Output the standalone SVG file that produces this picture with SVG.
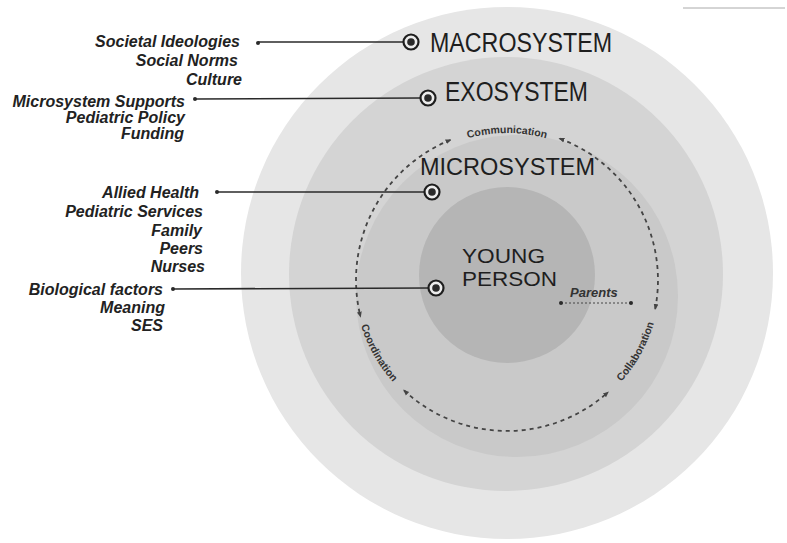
<svg xmlns="http://www.w3.org/2000/svg" width="787" height="543" viewBox="0 0 787 543">
<style>
.side{font-family:"Liberation Sans",Arial,sans-serif;font-size:16px;font-weight:bold;font-style:italic;fill:#222;text-anchor:end}
.sys{font-family:"Liberation Sans",Arial,sans-serif;fill:#1e1e1e}
.arcl{font-family:"Liberation Sans",Arial,sans-serif;font-size:10.5px;font-weight:bold;fill:#333}
.lead{stroke:#2a2a2a;stroke-width:1.6;fill:none}
.dot{fill:#2a2a2a}
.ring{fill:#ececec;stroke:#1e1e1e;stroke-width:2.2}
.core{fill:#2a2a2a}
.dash{fill:none;stroke:#444;stroke-width:1.8;stroke-dasharray:4 4}
</style>
<defs>
<marker id="ah" viewBox="0 0 10 10" refX="8" refY="5" markerWidth="6" markerHeight="6" markerUnits="userSpaceOnUse" orient="auto-start-reverse">
<path d="M0,1 L10,5 L0,9 z" fill="#444"/>
</marker>
<path id="pTop" d="M433.5 152.7 A147 147 0 0 1 580.5 152.7"/>
<path id="pBot" d="M354 280 A153 153 0 0 0 660 280"/>
</defs>
<rect width="787" height="543" fill="#ffffff"/>
<line x1="683" y1="8" x2="785" y2="8" stroke="#aaa" stroke-width="1"/>

<g id="macrosystem">
<circle cx="507" cy="273" r="266" fill="#e6e6e6"/>
<text class="sys" x="430" y="52" font-size="27" textLength="182" lengthAdjust="spacingAndGlyphs">MACROSYSTEM</text>
</g>
<g id="exosystem">
<circle cx="506" cy="274" r="217" fill="#d4d4d4"/>
<text class="sys" x="445" y="101" font-size="27" textLength="143" lengthAdjust="spacingAndGlyphs">EXOSYSTEM</text>
</g>
<g id="microsystem">
<circle cx="517" cy="296" r="161" fill="#c9c9c9"/>
<text class="sys" x="420" y="175" font-size="23" textLength="175" lengthAdjust="spacingAndGlyphs">MICROSYSTEM</text>
</g>
<g id="young-person">
<circle cx="507" cy="275" r="88" fill="#b5b5b5"/>
<text class="sys" x="462" y="263" font-size="20" textLength="83" lengthAdjust="spacingAndGlyphs">YOUNG</text>
<text class="sys" x="462" y="286" font-size="20" textLength="95" lengthAdjust="spacingAndGlyphs">PERSON</text>
</g>

<g id="cycle">
<path class="dash" d="M450.4 140 A151 151 0 0 0 360.5 316.5" marker-start="url(#ah)" marker-end="url(#ah)"/>
<path class="dash" d="M404 390.4 A151 151 0 0 0 608 392.2" marker-start="url(#ah)" marker-end="url(#ah)"/>
<path class="dash" d="M655.2 308.8 A151 151 0 0 0 559.6 138.5" marker-start="url(#ah)" marker-end="url(#ah)"/>
<text class="arcl"><textPath href="#pTop" startOffset="50%" text-anchor="middle">Communication</textPath></text>
<text class="arcl"><textPath href="#pBot" startOffset="79" text-anchor="middle">Coordination</textPath></text>
<text class="arcl"><textPath href="#pBot" startOffset="403" text-anchor="middle">Collaboration</textPath></text>
</g>

<g id="parents">
<text x="570" y="297" font-family="Liberation Sans, Arial, sans-serif" font-size="13" font-weight="bold" font-style="italic" fill="#333">Parents</text>
<line x1="561" y1="303" x2="631" y2="303" stroke="#444" stroke-width="1" stroke-dasharray="2 2"/>
<circle cx="561" cy="303" r="2" class="dot"/>
<circle cx="631" cy="303" r="2" class="dot"/>
</g>

<g id="labels-macro">
<text class="side" x="240" y="47">Societal Ideologies</text>
<text class="side" x="238" y="66">Social Norms</text>
<text class="side" x="242" y="85">Culture</text>
</g>
<g id="labels-exo">
<text class="side" x="185" y="107">Microsystem Supports</text>
<text class="side" x="185" y="123">Pediatric Policy</text>
<text class="side" x="184" y="139">Funding</text>
</g>
<g id="labels-micro">
<text class="side" x="199" y="198">Allied Health</text>
<text class="side" x="203" y="217">Pediatric Services</text>
<text class="side" x="202" y="236">Family</text>
<text class="side" x="203" y="254">Peers</text>
<text class="side" x="205" y="272">Nurses</text>
</g>
<g id="labels-person">
<text class="side" x="163" y="295">Biological factors</text>
<text class="side" x="165" y="313">Meaning</text>
<text class="side" x="163" y="331">SES</text>
</g>

<g id="connectors">
<line class="lead" x1="258" y1="42" x2="403" y2="42"/>
<circle class="dot" cx="258" cy="43" r="2"/>
<line class="lead" x1="195" y1="99" x2="420" y2="98"/>
<circle class="dot" cx="195" cy="99" r="2"/>
<line class="lead" x1="217" y1="192" x2="424" y2="192"/>
<circle class="dot" cx="217" cy="192" r="2"/>
<line class="lead" x1="173" y1="289" x2="428" y2="288"/>
<circle class="dot" cx="173" cy="289" r="2"/>
</g>

<g id="bullets">
<circle class="ring" cx="411" cy="42" r="7.5"/><circle class="core" cx="411" cy="42" r="3.8"/>
<circle class="ring" cx="428" cy="98" r="7.5"/><circle class="core" cx="428" cy="98" r="3.8"/>
<circle class="ring" cx="432" cy="192" r="7.5"/><circle class="core" cx="432" cy="192" r="3.8"/>
<circle class="ring" cx="436" cy="288" r="7.5"/><circle class="core" cx="436" cy="288" r="3.8"/>
</g>
</svg>
